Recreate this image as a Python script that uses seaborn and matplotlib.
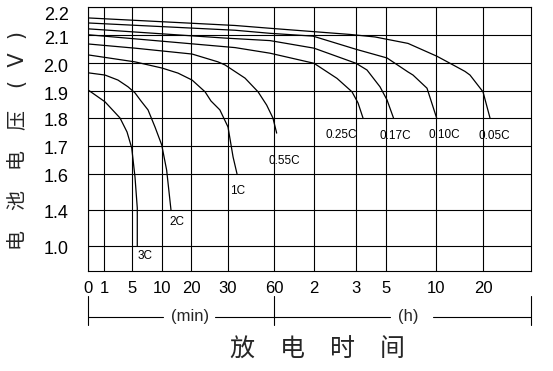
import numpy as np
import pandas as pd
import matplotlib
matplotlib.use("Agg")
import matplotlib.pyplot as plt
import seaborn as sns
from matplotlib.lines import Line2D
from matplotlib.transforms import ScaledTranslation

# ---------------- data (time in minutes, voltage in V) ----------------
rates = ["0.05C", "0.10C", "0.17C", "0.25C", "0.55C", "1C", "2C", "3C"]

t_005 = [0, 34.6, 57.4, 171.4, 256, 432, 612.8, 778.7, 970, 1034, 1200, 1375]
v_005 = [2.161, 2.134, 2.124, 2.102, 2.093, 2.070, 2.024, 1.999, 1.970, 1.957, 1.897, 1.80]

t_010 = [0, 34.6, 57.4, 118.5, 180, 256, 306, 432, 462, 546, 608]
v_010 = [2.143, 2.117, 2.106, 2.096, 2.049, 2.030, 2.018, 1.968, 1.957, 1.910, 1.80]

t_017 = [0, 29.2, 57.4, 120, 180, 224, 276, 306, 345]
v_017 = [2.122, 2.089, 2.080, 2.053, 1.999, 1.975, 1.915, 1.867, 1.80]

t_025 = [0, 34.6, 57.4, 120, 152.9, 174.3, 188, 208]
v_025 = [2.101, 2.055, 2.035, 1.999, 1.945, 1.897, 1.856, 1.80]

t_055 = [0, 5.5, 20.3, 27.3, 29.2, 41.1, 49.6, 55.2, 59.3, 64]
v_055 = [2.068, 2.053, 2.032, 2.004, 1.993, 1.946, 1.897, 1.848, 1.80, 1.746]

t_1c = [0, 5.5, 10, 15.5, 20.3, 23.8, 25.4, 27.8, 30, 33.3, 35.9]
v_1c = [2.029, 2.004, 1.982, 1.964, 1.939, 1.897, 1.863, 1.830, 1.768, 1.661, 1.60]

t_2c = [0, 1.14, 3.0, 4.43, 5.5, 6.5, 7.67, 8.83, 9.95, 11.6, 13.1]
v_2c = [1.965, 1.957, 1.939, 1.915, 1.893, 1.863, 1.830, 1.768, 1.704, 1.614, 1.40]

t_3c = [0, 1.14, 3.29, 4.29, 4.96, 5.5, 5.88, 5.88]
v_3c = [1.904, 1.860, 1.80, 1.75, 1.693, 1.583, 1.411, 1.0]

series_t = [t_005, t_010, t_017, t_025, t_055, t_1c, t_2c, t_3c]
series_v = [v_005, v_010, v_017, v_025, v_055, v_1c, v_2c, v_3c]

# curve label anchor points (time in minutes, voltage)
label_t = [1475, 702, 354, 159.6, 75, 36.5, 15.1, 7.2]
label_v = [1.734, 1.739, 1.736, 1.739, 1.647, 1.507, 1.27, 0.92]

x_tick_minutes = [0, 1, 5, 10, 20, 30, 60, 120, 180, 300, 600, 1200]
x_tick_labels = ["0", "1", "5", "10", "20", "30", "60", "2", "3", "5", "10", "20"]
y_ticks = [1.0, 1.4, 1.6, 1.7, 1.8, 1.9, 2.0, 2.1, 2.2]
y_tick_labels = ["1.0", "1.4", "1.6", "1.7", "1.8", "1.9", "2.0", "2.1", "2.2"]

# ---------------- nonlinear axis scales (layout) ----------------
XB = np.array([0, 1, 5, 10, 20, 30, 60, 120, 180, 300, 600, 1200, 2400], float)
XP = np.array([0, 16, 44, 74, 103, 140, 186, 226, 268, 298, 348, 395, 443], float)
YB = np.array([0.8, 1.0, 1.4, 1.6, 1.7, 1.8, 1.9, 2.0, 2.1, 2.2])
YP = np.array([0, 25, 61, 97, 125, 153, 180, 208, 236, 264], float)

def xf(x):
    return np.interp(np.asarray(x, float), XB, XP)
def xi(p):
    return np.interp(np.asarray(p, float), XP, XB)
def yf(y):
    return np.interp(np.asarray(y, float), YB, YP)
def yi(p):
    return np.interp(np.asarray(p, float), YP, YB)

rows = []
for r, ts, vs in zip(rates, series_t, series_v):
    for i, (t, v) in enumerate(zip(ts, vs)):
        rows.append({"rate": r, "t": t, "v": v, "order": i})
df = pd.DataFrame(rows)

sns.set_style("white")
plt.rcParams["font.family"] = ["Liberation Sans", "DejaVu Sans"]

W, H = 553, 371
fig = plt.figure(figsize=(W / 100, H / 100), dpi=100)
ax = fig.add_axes([88 / W, 1 - 271 / H, 443 / W, 264 / H])
ax.set_xscale("function", functions=(xf, xi))
ax.set_yscale("function", functions=(yf, yi))

sns.lineplot(data=df, x="t", y="v", hue="rate", units="rate", estimator=None,
             sort=False, palette=["black"] * len(rates), legend=False,
             linewidth=0.9, ax=ax)

ax.set_xlim(0, 2400)
ax.set_ylim(0.8, 2.2)
ax.set_xticks(x_tick_minutes, labels=x_tick_labels)
ax.set_yticks(y_ticks, labels=y_tick_labels)
ax.minorticks_off()
ax.tick_params(axis="both", length=0, colors="black")
ax.tick_params(axis="y", pad=14, labelsize=13)
ax.tick_params(axis="x", pad=7, labelsize=12)
ax.grid(True, color="black", linewidth=0.8)
for s in ax.spines.values():
    s.set_color("black")
    s.set_linewidth(0.8)
ax.set_xlabel("")
ax.set_ylabel("")

# nudge y tick labels slightly down as in the reference
ylabs = ax.get_yticklabels()
for i, lab in enumerate(ylabs):
    dy = -6 if i == len(ylabs) - 1 else -2
    lab.set_transform(lab.get_transform() + ScaledTranslation(0, dy / 100, fig.dpi_scale_trans))

for r, lt, lv in zip(rates, label_t, label_v):
    ax.text(lt, lv, r, ha="center", va="center", fontsize=8.5, color="black")

# bracket lines under the x axis
bt = ax.get_xaxis_transform()
def ypx(p):
    return (271 - p) / 264.0
y_top, y_bot, y_mid = ypx(296), ypx(325), ypx(317)
for xv in [0, 60, 2400]:
    ax.add_line(Line2D([xv, xv], [y_top, y_bot], transform=bt, color="black",
                       lw=0.8, clip_on=False))
for a, b in [(0, 10.3), (26.5, 60), (60, 324), (582, 2400)]:
    ax.add_line(Line2D([a, b], [y_mid, y_mid], transform=bt, color="black",
                       lw=0.8, clip_on=False))
ax.text(19.7, y_mid, "(min)", transform=bt, ha="center", va="center", fontsize=12)
ax.text(432, y_mid, "(h)", transform=bt, ha="center", va="center", fontsize=12)

cjk = ["Noto Sans CJK SC", "DejaVu Sans"]
fig.text(317.5 / W, 1 - 350 / H, "放\u3000电\u3000时\u3000间", ha="center", va="center",
         fontsize=18, family=cjk, fontweight="light")
fig.text(18 / W, 1 - 180 / H, "电\u3000池\u3000电\u3000压", ha="center", va="center",
         rotation=90, fontsize=14.4, family=cjk, fontweight="light")
fig.text(18 / W, 1 - 59 / H, "(  V  )", ha="center", va="center",
         rotation=90, fontsize=15, family=["DejaVu Sans"])

fig.savefig("out.png", dpi=100)
